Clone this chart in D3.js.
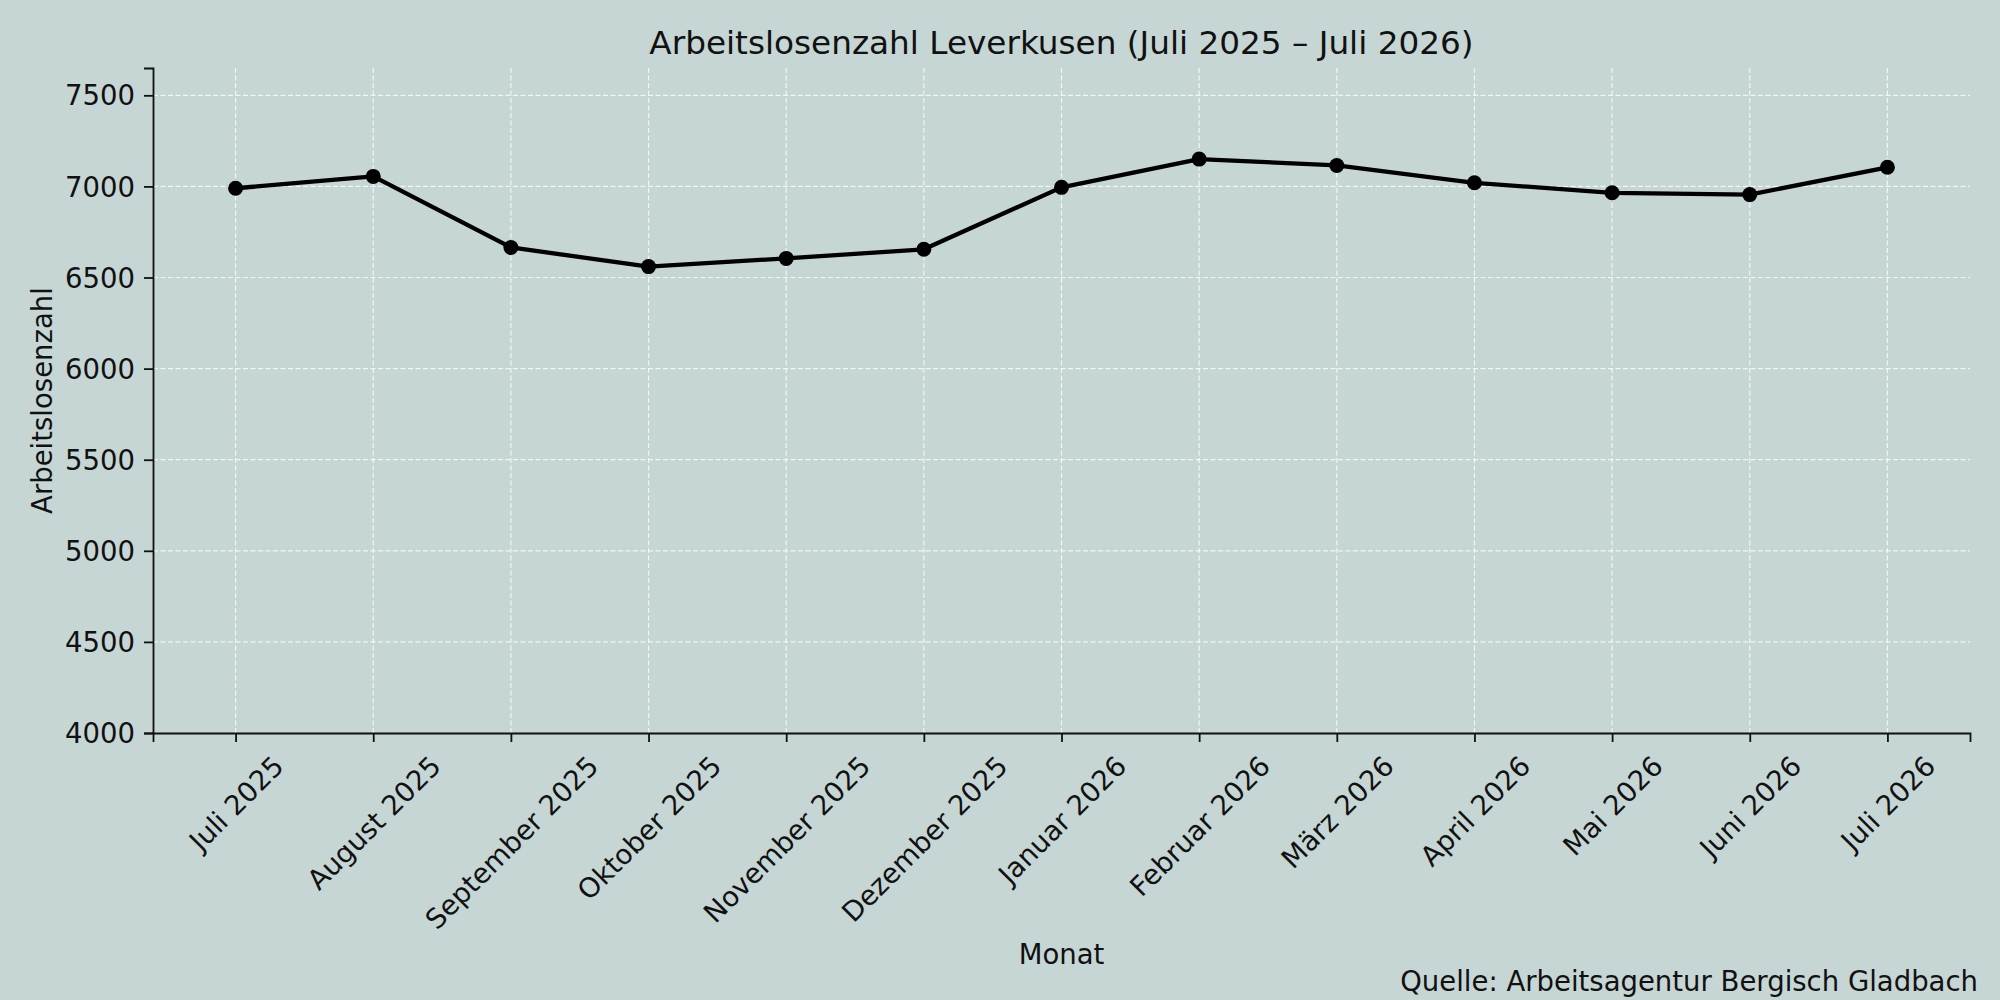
<!DOCTYPE html>
<html>
<head>
<meta charset="utf-8">
<script src="https://cdn.jsdelivr.net/npm/d3@7"></script>
<style>
  body { margin: 0; background: #c6d6d5; }
  svg { display: block; }
  text { font-family: "DejaVu Sans", sans-serif; fill: #111; }
</style>
</head>
<body>
<div id="chart"></div>
<script>
// data
var months = ["Juli 2025", "August 2025", "September 2025", "Oktober 2025", "November 2025",
              "Dezember 2025", "Januar 2026", "Februar 2026", "März 2026", "April 2026",
              "Mai 2026", "Juni 2026", "Juli 2026"];
var values = [6990, 7055, 6665, 6560, 6605, 6655, 6995, 7150, 7115, 7020, 6965, 6955, 7105];
var yTicks = [4000, 4500, 5000, 5500, 6000, 6500, 7000, 7500];

var W = 2000, H = 1000;
var margin = {top: 68, right: 30, bottom: 267, left: 153},
    width = W - margin.left - margin.right,
    height = H - margin.top - margin.bottom;
var fs = 27.5;

var root = d3.select("#chart")
  .append("svg")
    .attr("width", W)
    .attr("height", H);

root.append("rect")
  .attr("width", W).attr("height", H)
  .attr("fill", "#c6d6d5");

var svg = root.append("g")
  .attr("transform", "translate(" + margin.left + "," + margin.top + ")");

var x = d3.scaleLinear()
  .domain([-0.6, months.length - 1 + 0.6])
  .range([0, width]);

var y = d3.scaleLinear()
  .domain([4000, 7650])
  .range([height, 0]);

// grid
svg.append("g")
  .selectAll("line")
  .data(yTicks.filter(function(d) { return d > 4000; }))
  .enter().append("line")
    .attr("x1", 0).attr("x2", width)
    .attr("y1", function(d) { return y(d); })
    .attr("y2", function(d) { return y(d); })
    .attr("stroke", "#ffffff").attr("stroke-opacity", 0.75)
    .attr("stroke-width", 1.2).attr("stroke-dasharray", "5,2.5");

svg.append("g")
  .selectAll("line")
  .data(d3.range(months.length))
  .enter().append("line")
    .attr("x1", function(d) { return x(d); })
    .attr("x2", function(d) { return x(d); })
    .attr("y1", 0).attr("y2", height)
    .attr("stroke", "#ffffff").attr("stroke-opacity", 0.75)
    .attr("stroke-width", 1.2).attr("stroke-dasharray", "5,2.5");

// axes
var xAxis = svg.append("g")
  .attr("transform", "translate(0," + height + ")")
  .call(d3.axisBottom(x)
    .tickValues(d3.range(months.length))
    .tickFormat(function(i) { return months[i]; })
    .tickSize(9).tickPadding(9));

var yAxis = svg.append("g")
  .call(d3.axisLeft(y)
    .tickValues(yTicks)
    .tickFormat(d3.format("d"))
    .tickSize(9).tickPadding(9));

[xAxis, yAxis].forEach(function(ax) {
  ax.select(".domain").attr("stroke", "#111").attr("stroke-width", 1.8);
  ax.selectAll(".tick line").attr("stroke", "#111").attr("stroke-width", 1.8);
  ax.selectAll("text")
    .style("font-size", fs + "px")
    .style("font-family", "DejaVu Sans")
    .attr("fill", "#111");
});
yAxis.selectAll("text").attr("dy", "0.35em");

// rotated month labels, bbox centered under the tick (like matplotlib rotation=45)
xAxis.selectAll(".tick text").each(function() {
  var t = d3.select(this);
  var w = this.getComputedTextLength();
  var h = (w + fs) / Math.SQRT2;
  t.attr("y", null).attr("dy", null)
    .attr("text-anchor", "middle")
    .attr("dominant-baseline", "central")
    .attr("transform", "translate(0," + (18 + h / 2) + ") rotate(-45)");
});

// line + markers
var line = d3.line()
  .x(function(d, i) { return x(i); })
  .y(function(d) { return y(d); });

svg.append("path")
  .datum(values)
  .attr("fill", "none")
  .attr("stroke", "#000")
  .attr("stroke-width", 4.3)
  .attr("stroke-linejoin", "round")
  .attr("d", line);

svg.selectAll(".dot")
  .data(values)
  .enter().append("circle")
    .attr("class", "dot")
    .attr("cx", function(d, i) { return x(i); })
    .attr("cy", function(d) { return y(d); })
    .attr("r", 7.5)
    .attr("fill", "#000");

// titles
root.append("text")
  .attr("x", margin.left + width / 2)
  .attr("y", 54)
  .attr("text-anchor", "middle")
  .style("font-size", "32.7px")
  .text("Arbeitslosenzahl Leverkusen (Juli 2025 – Juli 2026)");

root.append("text")
  .attr("x", margin.left + width / 2)
  .attr("y", 964)
  .attr("text-anchor", "middle")
  .style("font-size", fs + "px")
  .text("Monat");

root.append("text")
  .attr("transform", "translate(42," + (margin.top + height / 2) + ") rotate(-90)")
  .attr("text-anchor", "middle")
  .attr("dominant-baseline", "central")
  .style("font-size", fs + "px")
  .text("Arbeitslosenzahl");

root.append("text")
  .attr("x", 1978)
  .attr("y", 991)
  .attr("text-anchor", "end")
  .style("font-size", fs + "px")
  .text("Quelle: Arbeitsagentur Bergisch Gladbach");
</script>
</body>
</html>
